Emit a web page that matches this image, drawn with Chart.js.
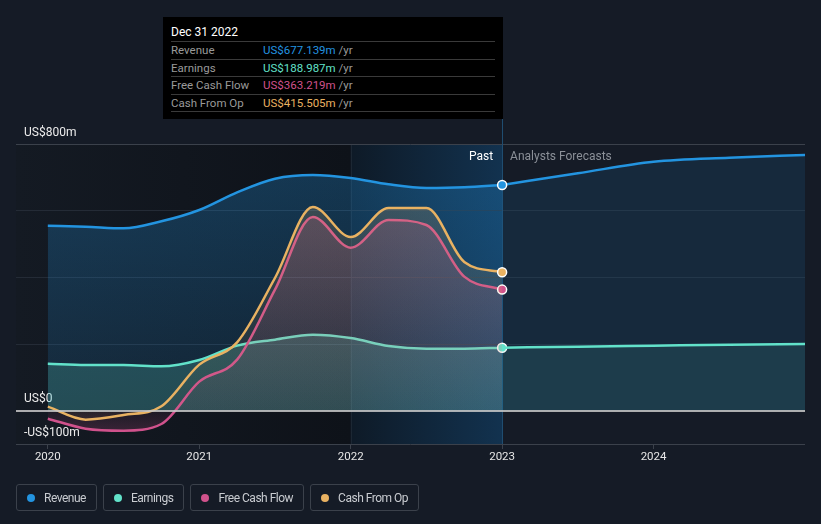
<!DOCTYPE html>
<html>
<head>
<meta charset="utf-8">
<script src="https://cdn.jsdelivr.net/npm/chart.js@4.4.1/dist/chart.umd.min.js"></script>
<style>
body { margin: 0; background: #151b26; font-family: Roboto, "Noto Sans", sans-serif; }
#wrap { position: relative; width: 821px; height: 524px; overflow: hidden; }
#chart { position: absolute; left: 0; top: 0; }
#tip { position: absolute; left: 163px; top: 17px; width: 340px; height: 102px; background: #000; box-sizing: border-box; padding: 0 8px; font-size: 11.5px; }
#tip .title { height: 24px; line-height: 30px; color: #fff; font-size: 12px; }
#tip .row { border-top: 1px solid #3a3a3a; height: 16.5px; line-height: 17px; color: #9a9a9a; display: flex; }
#tip .row:last-child { border-bottom: 1px solid #3a3a3a; }
#tip .lab { width: 92px; }
#legend { position: absolute; left: 16px; top: 484px; display: flex; gap: 6px; }
#legend .item { height: 25px; border: 1px solid #3b414b; border-radius: 3px; padding: 0 10px; display: flex; align-items: center; color: #c9ccd1; font-size: 12px; letter-spacing: -0.5px; }
#legend .dot { width: 8px; height: 8px; border-radius: 50%; margin-right: 9px; }
</style>
</head>
<body>
<div id="wrap">
	<canvas id="chart" width="821" height="524"></canvas>
	<div id="tip"></div>
	<div id="legend"></div>
</div>
<script>
"use strict";

// quarterly history, values in US$m
const pastYears = [2020, 2020.25, 2020.5, 2020.75, 2021, 2021.25, 2021.5, 2021.75, 2022, 2022.25, 2022.5, 2022.75, 2023];
const revenuePast = [555, 552, 547, 568, 602, 655, 696, 707, 698, 679, 668, 670, 677.139];
const earningsPast = [141, 137, 137, 133, 152, 195, 213, 228, 218, 194, 186, 186, 188.987];
const fcfPast = [-24, -54, -60, -40, 87, 153, 363, 581, 489, 572, 557, 402, 363.219];
const cfoPast = [12, -27, -13, 13, 138, 205, 398, 611, 521, 608, 608, 446, 415.505];

// analyst forecasts
const forecastYears = [2023, 2023.5, 2024, 2024.5, 2025];
const revenueForecast = [677.139, 712, 747, 759, 767];
const earningsForecast = [188.987, 192, 195, 198, 200];

const seriesNames = ["Revenue", "Earnings", "Free Cash Flow", "Cash From Op"];
const seriesColors = ["#2394e0", "#62e2ca", "#d0528c", "#e9b262"];

const xTickYears = [2020, 2021, 2022, 2023, 2024];
const yGridValues = [-100, 0, 200, 400, 600, 800];
const yTickLabels = ["-US$100m", "US$0", "", "", "", "US$800m"];

const tipDate = "Dec 31 2022";
const bandStart = 2022;
const pastEnd = 2023;

const pastSeries = [revenuePast, earningsPast, fcfPast, cfoPast];

function pts(xs, ys){
	return xs.map((x, i) => ({x: x, y: ys[i]}));
}

function rgba(hex, a){
	const n = parseInt(hex.slice(1), 16);
	return "rgba(" + (n >> 16) + "," + ((n >> 8) & 255) + "," + (n & 255) + "," + a + ")";
}

// vertical gradient fill, stronger at top, faint at zero
function gradFill(hex, topA, zeroA, bottomA){
	return function(ctx){
		const chart = ctx.chart;
		const area = chart.chartArea;
		if (!area) return rgba(hex, topA);
		const zy = chart.scales.y.getPixelForValue(0);
		const f = (zy - area.top) / (area.bottom - area.top);
		const g = chart.ctx.createLinearGradient(0, area.top, 0, area.bottom);
		g.addColorStop(0, rgba(hex, topA));
		g.addColorStop(f, rgba(hex, zeroA));
		g.addColorStop(1, rgba(hex, bottomA));
		return g;
	};
}

const lastIdx = pastYears.length - 1;
function lastPoint(ctx){
	return ctx.dataIndex === lastIdx ? 4.5 : 0;
}

function pastDataset(i, order, fill){
	return {
		label: seriesNames[i],
		data: pts(pastYears, pastSeries[i]),
		borderColor: seriesColors[i],
		backgroundColor: fill,
		borderWidth: 2.5,
		fill: "origin",
		order: order,
		cubicInterpolationMode: "monotone",
		pointRadius: lastPoint,
		pointBackgroundColor: seriesColors[i],
		pointBorderColor: "#ffffff",
		pointBorderWidth: 1.5
	};
}

const backgroundPlugin = {
	id: "bands",
	beforeDraw(chart){
		const {ctx, chartArea, scales} = chart;
		const xb = scales.x.getPixelForValue(bandStart);
		const xe = scales.x.getPixelForValue(pastEnd);
		const h = chartArea.bottom - chartArea.top;
		ctx.save();
		let g = ctx.createLinearGradient(chartArea.left, 0, xb, 0);
		g.addColorStop(0, "#141a23");
		g.addColorStop(1, "#0e1219");
		ctx.fillStyle = g;
		ctx.fillRect(chartArea.left, chartArea.top, xb - chartArea.left, h);
		g = ctx.createLinearGradient(xb, 0, xe, 0);
		g.addColorStop(0, "#0e1a27");
		g.addColorStop(1, "#12324f");
		ctx.fillStyle = g;
		ctx.fillRect(xb, chartArea.top, xe - xb, h);
		ctx.fillStyle = "rgba(255,255,255,0.06)";
		ctx.fillRect(Math.round(xb), chartArea.top, 1, h);
		ctx.restore();
	},
	beforeDatasetsDraw(chart){
		const {ctx, chartArea, scales} = chart;
		const xe = Math.round(scales.x.getPixelForValue(pastEnd));
		ctx.save();
		ctx.fillStyle = "#1f4d70";
		ctx.fillRect(xe, 17, 1, chartArea.bottom - 17);
		ctx.restore();
	},
	afterDatasetsDraw(chart){
		const {ctx, chartArea, scales} = chart;
		const zy = Math.round(scales.y.getPixelForValue(0));
		const xe = scales.x.getPixelForValue(pastEnd);
		ctx.save();
		ctx.fillStyle = "rgba(200,200,200,0.85)";
		ctx.fillRect(chartArea.left, zy - 1, chartArea.right - chartArea.left, 2);
		ctx.font = "12px Roboto";
		ctx.textBaseline = "middle";
		ctx.textAlign = "right";
		ctx.fillStyle = "#ffffff";
		ctx.fillText("Past", xe - 9, chartArea.top + 13);
		ctx.textAlign = "left";
		ctx.fillStyle = "#8b9098";
		ctx.fillText("Analysts Forecasts", xe + 8, chartArea.top + 13);
		ctx.restore();
	}
};

new Chart(document.querySelector("#chart").getContext("2d"), {
	type: "line",
	data: {
		datasets: [
			pastDataset(0, 5, gradFill(seriesColors[0], 0.3, 0.12, 0.12)),
			pastDataset(1, 4, rgba(seriesColors[1], 0.2)),
			pastDataset(2, 1, gradFill(seriesColors[2], 0.28, 0.05, 0.3)),
			pastDataset(3, 0, gradFill(seriesColors[3], 0.22, 0.04, 0.15)),
			{
				label: "rev-forecast",
				data: pts(forecastYears, revenueForecast),
				borderColor: seriesColors[0],
				backgroundColor: rgba(seriesColors[0], 0.12),
				borderWidth: 2.5,
				fill: "origin",
				order: 6,
				cubicInterpolationMode: "monotone",
				pointRadius: 0
			},
			{
				label: "earn-forecast",
				data: pts(forecastYears, earningsForecast),
				borderColor: seriesColors[1],
				backgroundColor: rgba(seriesColors[1], 0.1),
				borderWidth: 2.5,
				fill: "origin",
				order: 3,
				cubicInterpolationMode: "monotone",
				pointRadius: 0
			}
		]
	},
	options: {
		responsive: false,
		animation: false,
		events: [],
		layout: {padding: {top: 144, right: 16, left: 0, bottom: 0}},
		plugins: {legend: {display: false}, tooltip: {enabled: false}},
		scales: {
			x: {
				type: "linear",
				min: 2019.79,
				max: 2025.0,
				afterFit(scale){ scale.height = 80; },
				afterBuildTicks(scale){ scale.ticks = xTickYears.map(v => ({value: v})); },
				grid: {drawOnChartArea: false, drawTicks: true, tickLength: 5, color: "#3b414b"},
				border: {display: false},
				ticks: {
					color: "#e6e6e6",
					font: {family: "Roboto", size: 11.5},
					padding: 1,
					maxRotation: 0,
					callback: v => String(v)
				}
			},
			y: {
				min: -100,
				max: 800,
				afterFit(scale){ scale.width = 16; },
				afterBuildTicks(scale){ scale.ticks = yGridValues.map(v => ({value: v})); },
				grid: {
					drawTicks: false,
					color: ctx => (ctx.tick.value === 800 || ctx.tick.value === -100) ? "#3b414b" : (ctx.tick.value === 0 ? "rgba(0,0,0,0)" : "#242b36")
				},
				border: {display: false},
				ticks: {
					mirror: true,
					padding: 8,
					labelOffset: -11.5,
					color: "#ececec",
					font: {family: "Roboto", size: 12},
					callback: v => yTickLabels[yGridValues.indexOf(v)]
				}
			}
		}
	},
	plugins: [backgroundPlugin]
});

// tooltip box
const tip = document.querySelector("#tip");
let html = '<div class="title">' + tipDate + '</div>';
seriesNames.forEach((name, i) => {
	const v = pastSeries[i][lastIdx].toFixed(3);
	html += '<div class="row"><span class="lab">' + name + '</span><span style="color:' + seriesColors[i] + '">US$' + v + 'm</span><span>&nbsp;/yr</span></div>';
});
tip.innerHTML = html;

// legend
const legend = document.querySelector("#legend");
seriesNames.forEach((name, i) => {
	legend.innerHTML += '<div class="item"><span class="dot" style="background:' + seriesColors[i] + '"></span>' + name + '</div>';
});
</script>
</body>
</html>
